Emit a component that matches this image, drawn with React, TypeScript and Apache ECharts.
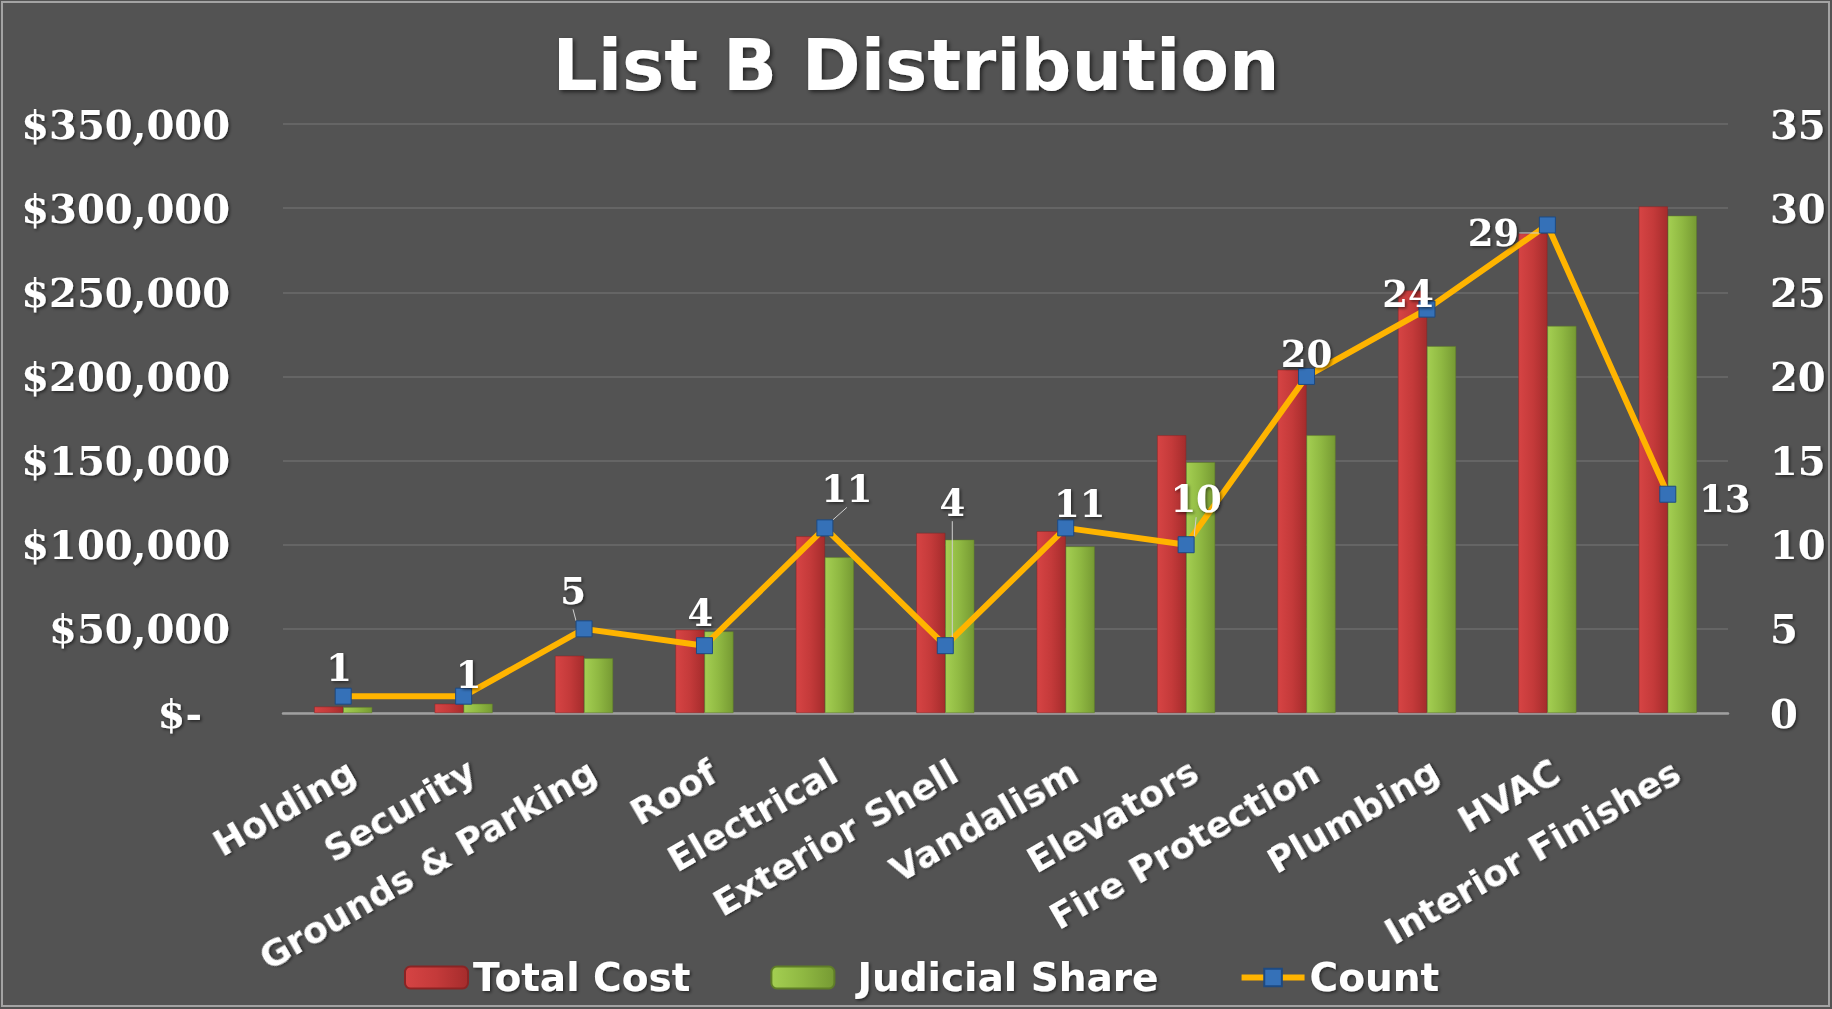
import React, { useEffect, useRef } from 'react';
import * as echarts from 'echarts';

const categories = [
  'Holding', 'Security', 'Grounds & Parking', 'Roof', 'Electrical', 'Exterior Shell',
  'Vandalism', 'Elevators', 'Fire Protection', 'Plumbing', 'HVAC', 'Interior Finishes',
];
const totalCost = [3800, 5500, 34000, 49500, 105000, 107000, 108000, 165000, 204000, 251000, 285000, 301000];
const judicialShare = [3500, 5500, 32500, 48500, 92500, 103000, 99000, 149000, 165000, 218000, 230000, 295500];
const counts = [1, 1, 5, 4, 11, 4, 11, 10, 20, 24, 29, 13];

const seriesNames = ['Total Cost', 'Judicial Share', 'Count'];
const titleText = 'List B Distribution';

// label offsets of the Count data labels (relative to marker), and which have leader lines
const countLabelOffsets: number[][] = [
  [-4, -28], [5, -21], [-11, -38], [-4, -33], [22, -39], [7, -143],
  [14, -24], [10, -46], [0, -22], [-19, -15], [-54, 8], [57, 5],
];
const countLeader = [false, false, true, false, true, true, false, true, false, false, true, false];

const shadow = {
  textShadowColor: 'rgba(0,0,0,0.55)',
  textShadowBlur: 3,
  textShadowOffsetX: 1.5,
  textShadowOffsetY: 1.5,
};

export default function App() {
  const ref = useRef<HTMLDivElement>(null);
  useEffect(() => {
    if (!ref.current) return;
    const chart = echarts.init(ref.current, undefined, { renderer: 'svg' });
    const serifLabel = {
      color: '#ffffff',
      fontFamily: 'DejaVu Serif',
      fontWeight: 'bold' as const,
      fontSize: 40,
      ...shadow,
    };
    const legendText = {
      color: '#ffffff',
      fontFamily: 'DejaVu Sans',
      fontWeight: 'bold' as const,
      fontSize: 39,
      ...shadow,
    };
    const redGrad = new echarts.graphic.LinearGradient(0, 0, 1, 0, [
      { offset: 0, color: '#d64444' },
      { offset: 0.5, color: '#c43a3a' },
      { offset: 1, color: '#a52c2c' },
    ]);
    const greenGrad = new echarts.graphic.LinearGradient(0, 0, 1, 0, [
      { offset: 0, color: '#a4cf52' },
      { offset: 0.5, color: '#8fb842' },
      { offset: 1, color: '#769a33' },
    ]);
    chart.setOption({
      animation: false,
      backgroundColor: '#535353',
      title: {
        text: titleText,
        left: 'center',
        top: 25,
        textStyle: {
          color: '#ffffff',
          fontFamily: 'DejaVu Sans',
          fontWeight: 'bold',
          fontSize: 71,
          textShadowColor: 'rgba(0,0,0,0.6)',
          textShadowBlur: 4,
          textShadowOffsetX: 2,
          textShadowOffsetY: 2,
        },
      },
      legend: {
        data: [
          seriesNames[0],
          { name: seriesNames[1], textStyle: { ...legendText, padding: [0, 0, 0, 18] } },
          seriesNames[2],
        ],
        left: 399,
        top: 953,
        itemWidth: 63,
        itemHeight: 22,
        itemGap: 80,
        lineStyle: { width: 6 },
        textStyle: legendText,
      },
      graphic: [
        {
          type: 'rect',
          shape: { x: 2, y: 2, width: 1827, height: 1004 },
          style: { fill: 'none', stroke: '#a3a3a3', lineWidth: 2 },
          silent: true,
        },
      ],
      grid: { left: 283, right: 104, top: 124, bottom: 296 },
      xAxis: {
        type: 'category',
        data: categories,
        axisTick: { show: false },
        axisLine: { lineStyle: { color: '#a0a0a0', width: 2.5 } },
        axisLabel: {
          interval: 0,
          rotate: 30,
          margin: 40,
          align: 'right',
          verticalAlign: 'top',
          color: '#ffffff',
          fontFamily: 'DejaVu Sans',
          fontWeight: 'bold',
          fontSize: 36,
          ...shadow,
        },
      },
      yAxis: [
        {
          type: 'value',
          min: 0,
          max: 350000,
          interval: 50000,
          axisLine: { show: false },
          axisTick: { show: false },
          splitLine: { lineStyle: { color: '#6b6b6b', width: 1.5 } },
          axisLabel: {
            margin: 53,
            ...serifLabel,
            formatter: (v: number) =>
              v === 0 ? '{z|$-}' : '$' + v.toLocaleString('en-US'),
            rich: {
              z: { ...serifLabel, padding: [0, 28, 0, 0] },
            },
          },
        },
        {
          type: 'value',
          min: 0,
          max: 35,
          interval: 5,
          axisLine: { show: false },
          axisTick: { show: false },
          splitLine: { show: false },
          axisLabel: { margin: 42, ...serifLabel },
        },
      ],
      series: [
        {
          name: seriesNames[0],
          type: 'bar',
          data: totalCost,
          barWidth: 29,
          barGap: '0%',
          itemStyle: { color: redGrad, borderColor: '#8a2424', borderWidth: 0.5 },
        },
        {
          name: seriesNames[1],
          type: 'bar',
          data: judicialShare,
          barWidth: 29,
          barGap: '0%',
          itemStyle: { color: greenGrad, borderColor: '#5f7d28', borderWidth: 0.5 },
        },
        {
          name: seriesNames[2],
          type: 'line',
          yAxisIndex: 1,
          z: 5,
          data: counts.map((v, i) => ({ value: v, labelLine: { show: countLeader[i] } })),
          lineStyle: { color: '#ffb400', width: 6 },
          itemStyle: { color: '#3571b8', borderColor: '#1d4a82', borderWidth: 1 },
          symbol: 'rect',
          symbolSize: 16,
          label: {
            show: true,
            position: 'inside',
            color: '#ffffff',
            fontFamily: 'DejaVu Serif',
            fontWeight: 'bold',
            fontSize: 37,
            ...shadow,
          },
          labelLine: { show: false, lineStyle: { color: '#d0d0d0', width: 1 } },
          labelLayout: (params: any) => {
            const o = countLabelOffsets[params.dataIndex] || [0, -30];
            return { dx: o[0], dy: o[1] };
          },
        },
      ],
    });
    return () => chart.dispose();
  }, []);
  return (
    <div
      ref={ref}
      style={{ position: 'fixed', left: 0, top: 0, width: 1832, height: 1009 }}
    />
  );
}
